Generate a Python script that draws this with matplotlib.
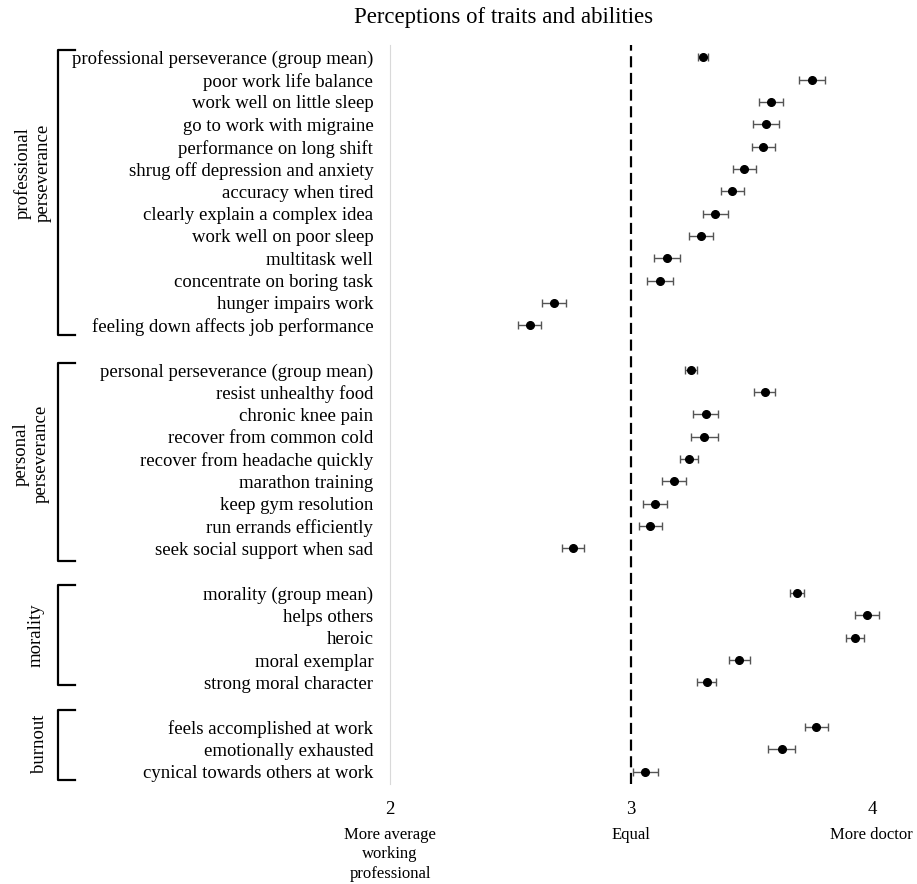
import matplotlib
matplotlib.use('Agg')
import matplotlib.pyplot as plt
from matplotlib.transforms import blended_transform_factory

plt.rcParams['font.family'] = ['Liberation Serif', 'DejaVu Serif']

group_names = ['professional\nperseverance', 'personal\nperseverance', 'morality', 'burnout']

prof_labels = ['professional perseverance (group mean)', 'poor work life balance',
               'work well on little sleep', 'go to work with migraine',
               'performance on long shift', 'shrug off depression and anxiety',
               'accuracy when tired', 'clearly explain a complex idea',
               'work well on poor sleep', 'multitask well', 'concentrate on boring task',
               'hunger impairs work', 'feeling down affects job performance']
prof_means = [3.30, 3.75, 3.58, 3.56, 3.55, 3.47, 3.42, 3.35, 3.29, 3.15, 3.12, 2.68, 2.58]
prof_errs = [0.02, 0.054, 0.05, 0.054, 0.047, 0.048, 0.048, 0.052, 0.05, 0.053, 0.053, 0.049, 0.047]

pers_labels = ['personal perseverance (group mean)', 'resist unhealthy food', 'chronic knee pain',
               'recover from common cold', 'recover from headache quickly', 'marathon training',
               'keep gym resolution', 'run errands efficiently', 'seek social support when sad']
pers_means = [3.25, 3.555, 3.31, 3.305, 3.24, 3.18, 3.10, 3.08, 2.76]
pers_errs = [0.024, 0.044, 0.051, 0.055, 0.037, 0.049, 0.05, 0.048, 0.046]

mor_labels = ['morality (group mean)', 'helps others', 'heroic', 'moral exemplar',
              'strong moral character']
mor_means = [3.69, 3.98, 3.93, 3.45, 3.315]
mor_errs = [0.028, 0.048, 0.039, 0.044, 0.039]

burn_labels = ['feels accomplished at work', 'emotionally exhausted',
               'cynical towards others at work']
burn_means = [3.77, 3.625, 3.06]
burn_errs = [0.048, 0.055, 0.051]

groups = [(prof_labels, prof_means, prof_errs), (pers_labels, pers_means, pers_errs),
          (mor_labels, mor_means, mor_errs), (burn_labels, burn_means, burn_errs)]

# row positions, one blank row between groups
rows, labels, means, errs, spans = [], [], [], [], []
r = 0
for lab, m, e in groups:
    start = r
    for i in range(len(lab)):
        rows.append(r)
        labels.append(lab[i])
        means.append(m[i])
        errs.append(e[i])
        r += 1
    spans.append((start, r - 1))
    r += 1

fig = plt.figure(figsize=(9.17, 8.84), dpi=100)
ax = fig.add_axes([390 / 917, 1 - 784 / 884, (908 - 390) / 917, (784 - 45) / 884])

ax.errorbar(means, rows, xerr=errs, fmt='o', color='black', ms=5.5,
            ecolor='#555555', elinewidth=1, capsize=3, capthick=1, zorder=3)
ax.axvline(3, color='black', ls=(0, (5, 2.5)), lw=1.6)

ax.set_xlim(2, 4.15)
ax.set_ylim(rows[-1] + 0.55, -0.55)

for s in ['top', 'right', 'bottom']:
    ax.spines[s].set_visible(False)
ax.spines['left'].set_color('#d9d9d9')

ax.set_yticks(rows, labels, fontsize=13.5)
ax.tick_params(axis='y', length=0, pad=12)
ax.set_xticks([2, 3, 4], ['2', '3', '4'], fontsize=13.5)
ax.tick_params(axis='x', length=0, pad=12)

xt = ax.get_xaxis_transform()
sub = ['More average\nworking\nprofessional', 'Equal', 'More doctor']
for x, s in zip([2, 3, 4], sub):
    ax.text(x, -0.058, s, transform=xt, ha='center', va='top', fontsize=12, linespacing=1.3)

# brackets and group names
trans = blended_transform_factory(fig.transFigure, ax.transData)
bracket_pad = [(-0.33, 0.44), (-0.3, 0.55), (-0.36, 0.12), (-0.76, 0.37)]
name_pos = [(33, 5.18), (31, 17.77), (36, 25.88), (40, 30.77)]
x0, x1 = 58 / 917, 75 / 917
for (a, b), (pt, pb), name, (nx, ny) in zip(spans, bracket_pad, group_names, name_pos):
    top, bot = a + pt, b + pb
    ax.plot([x1, x0, x0, x1], [top, top, bot, bot], transform=trans, clip_on=False,
            color='black', lw=1.6)
    ax.text(nx / 917, ny, name, transform=trans, rotation=90, ha='center', va='center',
            fontsize=13.5, linespacing=1.2)

fig.text(504 / 917, 1 - 18 / 884, 'Perceptions of traits and abilities', ha='center',
         va='center', fontsize=16.4)

fig.savefig('out.png', dpi=100)
